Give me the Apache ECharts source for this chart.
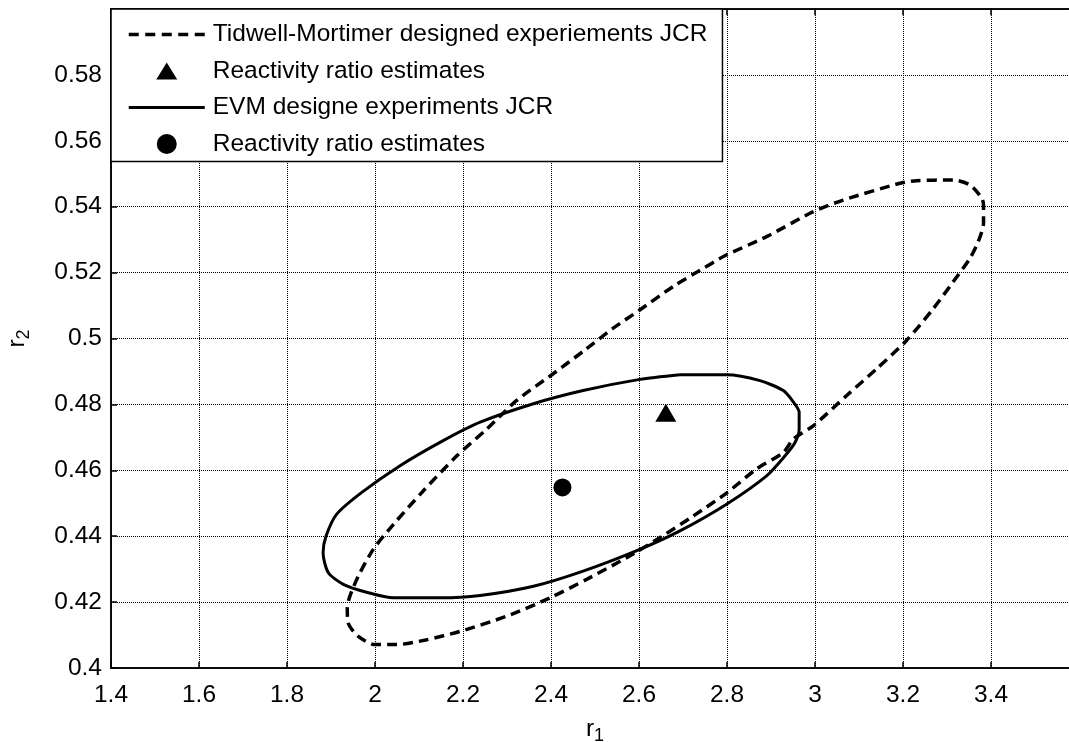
<!DOCTYPE html>
<html>
<head>
<meta charset="utf-8">
<script src="https://cdn.jsdelivr.net/npm/echarts@6/dist/echarts.min.js"></script>
<style>
  html, body { margin: 0; padding: 0; background: #fff; }
  #chart { width: 1069px; height: 742px; }
</style>
</head>
<body>
<div id="chart"></div>
<script>
// Joint confidence region of Tidwell-Mortimer designed experiments (r1, r2 pairs)
const tmRegion = [
  [2.481, 0.4969], [2.540, 0.5030], [2.600, 0.5085], [2.680, 0.5160],
  [2.739, 0.5207], [2.795, 0.5251], [2.890, 0.5309], [2.996, 0.5385],
  [3.064, 0.5420], [3.193, 0.5471], [3.231, 0.5479], [3.314, 0.5481],
  [3.352, 0.5466], [3.379, 0.5426], [3.383, 0.5405], [3.383, 0.5350],
  [3.371, 0.5294], [3.352, 0.5243], [3.314, 0.5172], [3.269, 0.5091],
  [3.208, 0.4994], [3.140, 0.4908], [3.072, 0.4827], [2.996, 0.4735],
  [2.951, 0.4695], [2.928, 0.4654], [2.867, 0.4604], [2.799, 0.4531],
  [2.723, 0.4461], [2.648, 0.4396], [2.572, 0.4335], [2.481, 0.4269],
  [2.398, 0.4213], [2.299, 0.4157], [2.193, 0.4111], [2.118, 0.4086],
  [2.049, 0.4071], [2.000, 0.4071], [1.962, 0.4096], [1.939, 0.4137],
  [1.937, 0.4183], [1.943, 0.4218], [1.962, 0.4279], [1.996, 0.4360],
  [2.042, 0.4436], [2.110, 0.4538], [2.186, 0.4644], [2.254, 0.4725],
  [2.322, 0.4812], [2.405, 0.4893], [2.481, 0.4969]
];

// Joint confidence region of EVM designed experiments
const evmRegion = [
  [2.693, 0.4890], [2.799, 0.4890], [2.875, 0.4872], [2.928, 0.4842],
  [2.951, 0.4807], [2.964, 0.4776], [2.964, 0.4725], [2.955, 0.4685],
  [2.932, 0.4644], [2.890, 0.4583], [2.799, 0.4497], [2.693, 0.4416],
  [2.602, 0.4360], [2.473, 0.4294], [2.360, 0.4248], [2.239, 0.4220],
  [2.148, 0.4213], [2.042, 0.4213], [1.981, 0.4230], [1.928, 0.4254],
  [1.894, 0.4289], [1.882, 0.4350], [1.889, 0.4401], [1.913, 0.4467],
  [1.970, 0.4533], [2.057, 0.4614], [2.155, 0.4690], [2.239, 0.4746],
  [2.360, 0.4802], [2.473, 0.4842], [2.602, 0.4876], [2.693, 0.4890]
];

// Point estimates of the reactivity ratios
const tmEstimate = [[2.661, 0.4775]];
const evmEstimate = [[2.426, 0.4548]];

const legendLabels = {
  tmJcr: 'Tidwell-Mortimer designed experiements JCR',
  tmPoint: 'Reactivity ratio estimates',
  evmJcr: 'EVM designe experiments JCR',
  evmPoint: 'Reactivity ratio estimates'
};

const xRange = { min: 1.4, max: 3.6, step: 0.2 };
const yRange = { min: 0.4, max: 0.6, step: 0.02 };

const FONT = '"Liberation Sans", Arial, Helvetica, sans-serif';
const FS = 24.5;
const gridLine = { show: true, lineStyle: { color: '#000', width: 1, type: [1, 1] } };
const hiddenSymbol = { color: 'rgba(0,0,0,0)', borderColor: 'rgba(0,0,0,0)', borderWidth: 0 };
const axisStroke = { color: '#000', width: 1.5 };
// legend triangle centred in a wide box so it keeps its proportions
const legendTriangle = 'path://M0,17L27.5,17L38,0L48.5,17L76,17Z';

const chart = echarts.init(document.getElementById('chart'), null, { renderer: 'canvas' });

chart.setOption({
  animation: false,
  backgroundColor: '#fff',
  textStyle: { fontFamily: FONT, color: '#000' },
  grid: {
    left: 111, top: 9, width: 968, height: 659,
    outerBoundsMode: 'none',
    containLabel: false,
    show: true, borderColor: '#000', borderWidth: 1.5, backgroundColor: 'transparent'
  },
  legend: {
    orient: 'vertical',
    left: 111, top: 9,
    padding: [13, 15, 5, 16],
    itemWidth: 76, itemHeight: 20, itemGap: 11.5,
    symbolKeepAspect: true,
    backgroundColor: '#fff',
    borderColor: '#000', borderWidth: 1.5, borderRadius: 0,
    textStyle: { fontSize: FS, lineHeight: 25, color: '#000', fontFamily: FONT, padding: [0, 0, 0, 3] },
    formatter: (name) => legendLabels[name],
    data: [
      { name: 'tmJcr', itemStyle: hiddenSymbol, lineStyle: { color: '#000', width: 3.5, type: [10, 6.5] } },
      { name: 'tmPoint', icon: legendTriangle },
      { name: 'evmJcr', itemStyle: hiddenSymbol, lineStyle: { color: '#000', width: 3.2, type: 'solid' } },
      { name: 'evmPoint' }
    ],
    z: 10
  },
  xAxis: [{
    type: 'value',
    min: xRange.min, max: xRange.max, interval: xRange.step,
    position: 'bottom',
    name: 'r{s|1}', nameLocation: 'middle', nameGap: 45,
    nameTextStyle: {
      fontSize: FS, color: '#000', fontFamily: FONT,
      rich: { s: { fontSize: 18, fontFamily: FONT, color: '#000', padding: [14, 0, 0, 0] } }
    },
    axisLine: { show: true, onZero: false, lineStyle: axisStroke },
    axisTick: { show: true, inside: true, length: 6, lineStyle: axisStroke },
    axisLabel: {
      fontSize: FS, color: '#000', fontFamily: FONT, margin: 15,
      showMaxLabel: false,
      formatter: (v) => String(+v.toFixed(2))
    },
    splitLine: gridLine
  }, {
    type: 'value',
    min: xRange.min, max: xRange.max, interval: xRange.step,
    position: 'top',
    axisLine: { show: true, onZero: false, lineStyle: axisStroke },
    axisTick: { show: true, inside: true, length: 6, lineStyle: axisStroke },
    axisLabel: { show: false },
    splitLine: { show: false }
  }],
  yAxis: {
    type: 'value',
    min: yRange.min, max: yRange.max, interval: yRange.step,
    name: 'r{s|2}', nameLocation: 'middle', nameGap: 78, nameRotate: 90,
    nameTextStyle: {
      fontSize: FS, color: '#000', fontFamily: FONT,
      rich: { s: { fontSize: 18, fontFamily: FONT, color: '#000', padding: [14, 0, 0, 0] } }
    },
    axisLine: { show: true, onZero: false, lineStyle: axisStroke },
    axisTick: { show: true, inside: true, length: 6, lineStyle: axisStroke },
    axisLabel: {
      fontSize: FS, color: '#000', fontFamily: FONT, margin: 9,
      showMaxLabel: false,
      formatter: (v) => String(+v.toFixed(2))
    },
    splitLine: gridLine
  },
  series: [{
    name: 'tmJcr',
    type: 'line',
    data: tmRegion,
    smooth: 0.25,
    symbol: 'none',
    lineStyle: { color: '#000', width: 3.5, type: [10, 6] },
    itemStyle: { color: '#000' },
    z: 3
  }, {
    name: 'tmPoint',
    type: 'scatter',
    data: tmEstimate,
    symbol: 'triangle',
    symbolSize: [21, 18],
    itemStyle: { color: '#000', opacity: 1 },
    z: 4
  }, {
    name: 'evmJcr',
    type: 'line',
    data: evmRegion,
    smooth: 0.25,
    symbol: 'none',
    lineStyle: { color: '#000', width: 3, type: 'solid' },
    itemStyle: { color: '#000' },
    z: 3
  }, {
    name: 'evmPoint',
    type: 'scatter',
    data: evmEstimate,
    symbol: 'circle',
    symbolSize: 18,
    itemStyle: { color: '#000', opacity: 1 },
    z: 4
  }]
});
</script>
</body>
</html>
